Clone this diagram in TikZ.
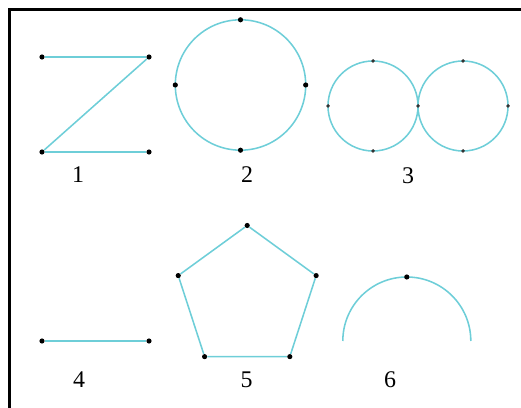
\documentclass[tikz,border=0pt]{standalone}
\usepackage{fontspec}
\setmainfont{Liberation Serif}
\usetikzlibrary{calc}
\definecolor{curvecyan}{RGB}{110,206,216}
\tikzset{
  curve/.style={line width=1.1pt,curvecyan},
  vert/.style={circle,fill=black,inner sep=1.3pt},
  svert/.style={circle,fill=black!80,inner sep=1.0pt},
  frame/.style={line width=2.6pt,black},
  lbl/.style={font=\fontsize{17}{20}\selectfont},
}

\begin{document}
\begin{tikzpicture}
    \useasboundingbox (0,0) rectangle (13.025,10.2);
    % ---------- frame (cut off at right and bottom) ----------
    \coordinate (f1) at (13.025,9.96);
    \coordinate (f2) at (0.24,9.96);
    \coordinate (f3) at (0.24,0);
    \draw[frame] (f1) -- (f2) -- (f3);
    % ---------- 1: Z-shaped path ----------
    \begin{scope}
      \node[vert] (a1) at (1.05,8.775) {};
      \node[vert] (a2) at (3.725,8.775) {};
      \node[vert] (a3) at (1.05,6.4) {};
      \node[vert] (a4) at (3.725,6.4) {};
      \draw[curve] (a1) -- (a2) -- (a3) -- (a4);
      \node[lbl] (l1) at (1.95,5.825) {1};
    \end{scope}
    % ---------- 2: one circle, four points ----------
    \begin{scope}
      \coordinate (c2) at (6.0125,8.075);
      \draw[curve] (c2) circle (1.63);
      \foreach \a/\n in {0/e,90/n,180/w,270/s}
        \node[vert] (b\n) at ($(c2)+(\a:1.63)$) {};
      \node[lbl] (l2) at (6.175,5.825) {2};
    \end{scope}
    % ---------- 3: two touching circles ----------
    \begin{scope}
      \coordinate (c3) at (9.325,7.55);
      \coordinate (c4) at (11.575,7.55);
      \draw[curve] (c3) circle (1.125);
      \draw[curve] (c4) circle (1.125);
      \foreach \a/\n in {90/n,180/w,270/s}
        \node[svert] (p\n) at ($(c3)+(\a:1.125)$) {};
      \foreach \a/\n in {0/e,90/n,270/s}
        \node[svert] (q\n) at ($(c4)+(\a:1.125)$) {};
      \node[svert] (pq) at ($(c3)+(0:1.125)$) {};
      \node[lbl] (l3) at (10.2,5.8) {3};
    \end{scope}
    % ---------- 4: segment ----------
    \begin{scope}
      \node[vert] (d1) at (1.05,1.675) {};
      \node[vert] (d2) at (3.725,1.675) {};
      \draw[curve] (d1) -- (d2);
      \node[lbl] (l4) at (1.975,0.7) {4};
    \end{scope}
    % ---------- 5: pentagon ----------
    \begin{scope}[shift={(6.18,2.75)}]
      \foreach \i/\a in {1/90,2/162,3/234,4/306,5/18}
        \node[vert] (v\i) at (\a:1.8125) {};
      \draw[curve] (v1) -- (v2) -- (v3) -- (v4) -- (v5) -- (v1);
      \node[lbl] (l5) at (-0.0175,-2.05) {5};
    \end{scope}
    % ---------- 6: half circle ----------
    \begin{scope}
      \coordinate (c6) at (10.17,1.675);
      \coordinate (h1) at ($(c6)+(0:1.6)$);
      \draw[curve] (h1) arc (0:180:1.6);
      \node[vert] (h2) at ($(c6)+(90:1.6)$) {};
      \node[lbl] (l6) at (9.75,0.7) {6};
    \end{scope}
  \end{tikzpicture}
\end{document}
